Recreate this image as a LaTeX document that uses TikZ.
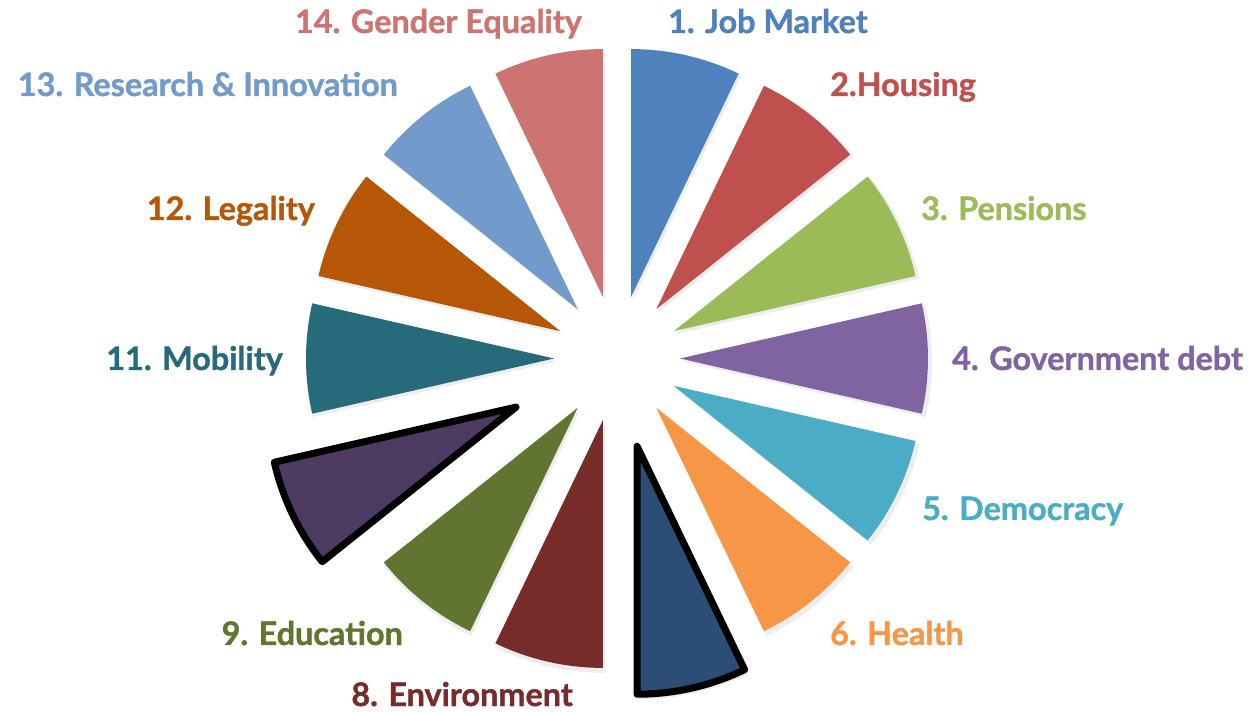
\documentclass[tikz,border=0pt]{standalone}
\usepackage{fontspec}
\setmainfont{Lato}[BoldFeatures={FakeBold=1.2}]
\usetikzlibrary{calc}
\definecolor{c1}{HTML}{4F81BD}
\definecolor{c2}{HTML}{C0504D}
\definecolor{c3}{HTML}{9BBB59}
\definecolor{c4}{HTML}{8064A2}
\definecolor{c5}{HTML}{4BACC6}
\definecolor{c6}{HTML}{F79646}
\definecolor{c7}{HTML}{2C4D75}
\definecolor{c8}{HTML}{772C2A}
\definecolor{c9}{HTML}{5F7530}
\definecolor{c10}{HTML}{4D3B62}
\definecolor{c11}{HTML}{276A7C}
\definecolor{c12}{HTML}{B65708}
\definecolor{c13}{HTML}{729ACA}
\definecolor{c14}{HTML}{CD7371}
\begin{document}
\begin{tikzpicture}[x=1bp,y=1bp,line join=round,
    plain/.style={draw=none},
    picked/.style={draw=black,line width=7bp},
    lbl/.style={inner sep=0pt,font=\bfseries\fontsize{32.5}{32.5}\selectfont},]
        %%
        \useasboundingbox (0bp,0bp) rectangle (1250bp,713bp);
        \coordinate (ctr) at (617bp,354.5bp);
        %% soft shadow
        \foreach \k/\off in {1/63,2/63,3/63,4/63,5/63,6/63,7/90,8/63,9/63,10/112,11/63,12/63,13/63,14/63}
        {
          \pgfmathsetmacro{\s}{90-(\k-1)*360/14}
          \pgfmathsetmacro{\e}{90-\k*360/14}
          \pgfmathsetmacro{\m}{90-(\k-0.5)*360/14}
          \fill [black,opacity=0.07] ($(ctr)+(\m:\off)+(2,-3)$) -- ++(\s:250) arc[start angle=\s,end angle=\e,radius=250] -- cycle;
        }
        %% slices
        \foreach \k/\col/\off/\sty in {1/c1/63/plain,2/c2/63/plain,3/c3/63/plain,4/c4/63/plain,5/c5/63/plain,6/c6/63/plain,7/c7/90/picked,8/c8/63/plain,9/c9/63/plain,10/c10/112/picked,11/c11/63/plain,12/c12/63/plain,13/c13/63/plain,14/c14/63/plain}
        {
          \pgfmathsetmacro{\s}{90-(\k-1)*360/14}
          \pgfmathsetmacro{\e}{90-\k*360/14}
          \pgfmathsetmacro{\m}{90-(\k-0.5)*360/14}
          \draw [fill=\col,\sty] ($(ctr)+(\m:\off)$) -- ++(\s:248) arc[start angle=\s,end angle=\e,radius=248] -- cycle;
        }
        %% labels
        \node (lab_1) at (668bp,680bp) [lbl,text=c1,anchor=base west] {1. Job Market};
        \node (lab_2) at (830bp,617bp) [lbl,text=c2,anchor=base west] {2.Housing};
        \node (lab_3) at (921bp,493bp) [lbl,text=c3,anchor=base west] {3. Pensions};
        \node (lab_4) at (952bp,343bp) [lbl,text=c4,anchor=base west] {4. Government debt};
        \node (lab_5) at (922bp,193bp) [lbl,text=c5,anchor=base west] {5. Democracy};
        \node (lab_6) at (830bp,68bp) [lbl,text=c6,anchor=base west] {6. Health};
        \node (lab_8) at (573bp,7bp) [lbl,text=c8,anchor=base east] {8. Environment};
        \node (lab_9) at (403bp,68bp) [lbl,text=c9,anchor=base east] {9. Education};
        \node (lab_11) at (283bp,343bp) [lbl,text=c11,anchor=base east] {11. Mobility};
        \node (lab_12) at (315bp,493bp) [lbl,text=c12,anchor=base east] {12. Legality};
        \node (lab_13) at (398bp,617bp) [lbl,text=c13,anchor=base east] {13. Research \& Innovation};
        \node (lab_14) at (582bp,680bp) [lbl,text=c14,anchor=base east] {14. Gender Equality};
        %
\end{tikzpicture}
\end{document}
